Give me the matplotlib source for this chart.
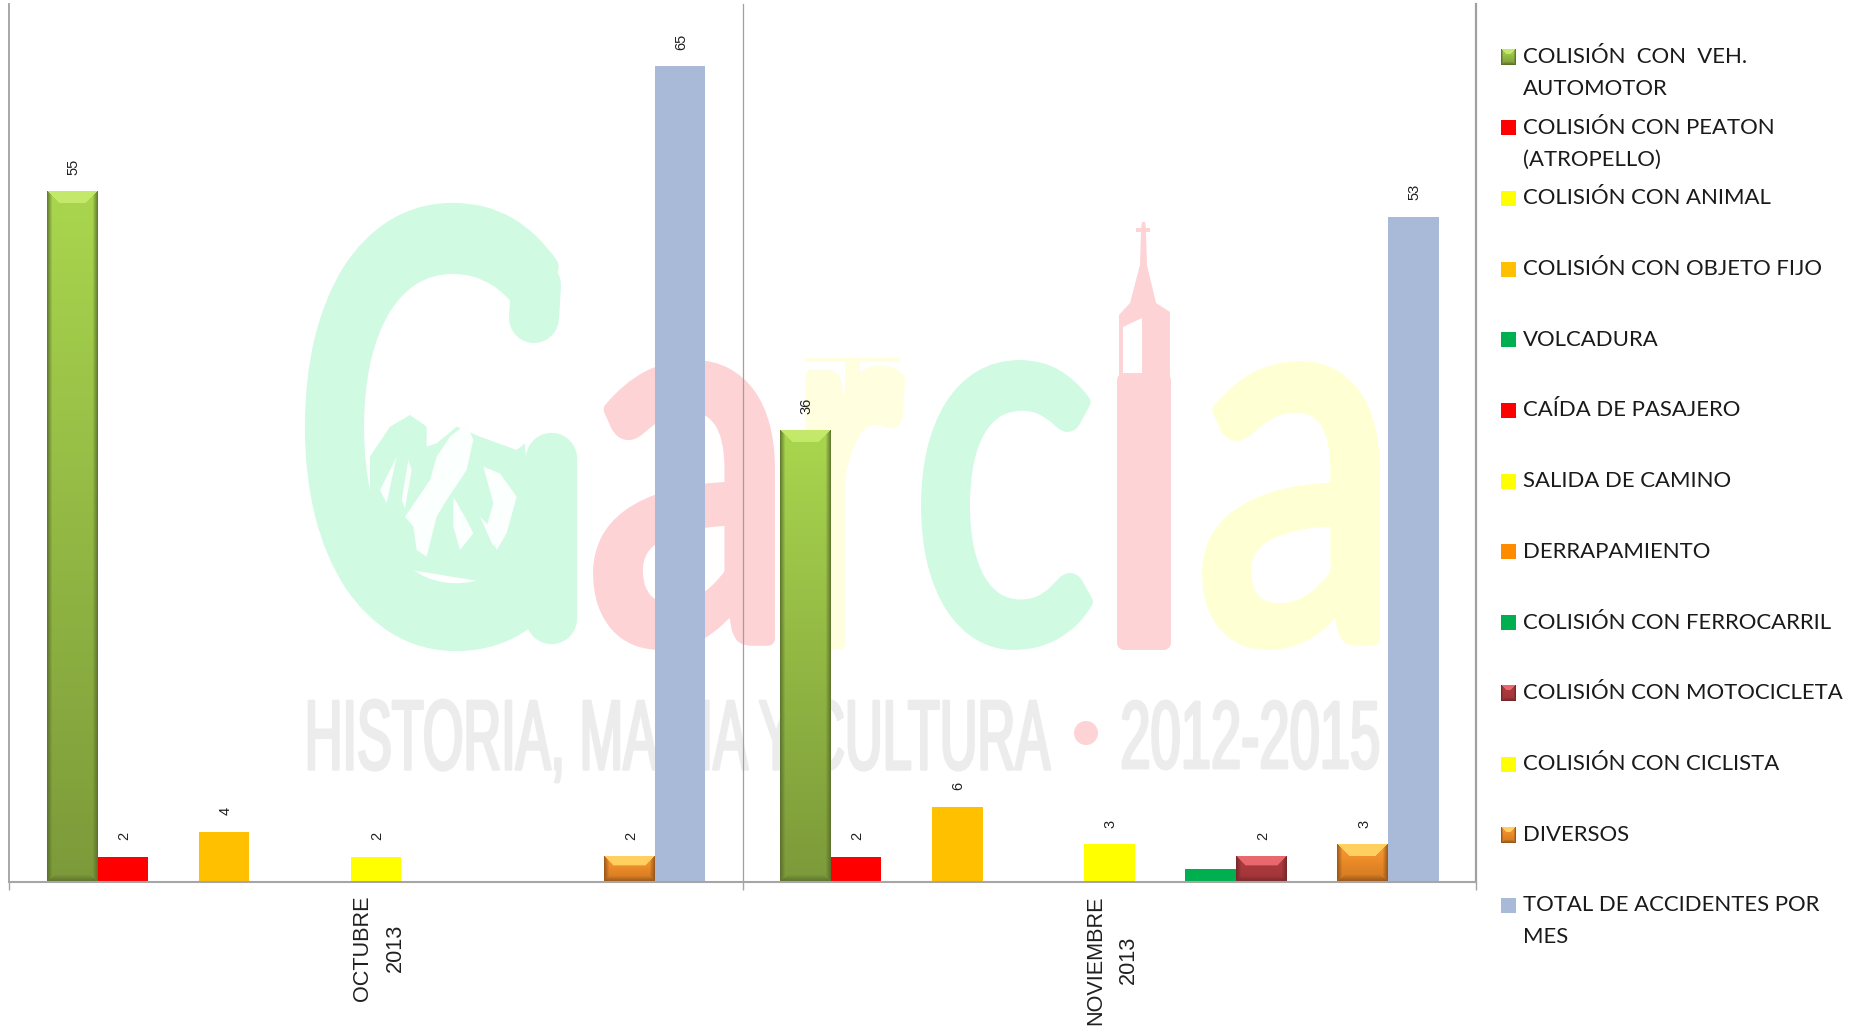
import numpy as np
import matplotlib
matplotlib.use('Agg')
import matplotlib.pyplot as plt
import matplotlib.patheffects as pe
from matplotlib.patches import Polygon, Circle, Rectangle
from matplotlib.transforms import Affine2D

W, H = 1852, 1034

months = ['OCTUBRE\n2013', 'NOVIEMBRE\n2013']
series = ['COLISIÓN  CON  VEH.\nAUTOMOTOR', 'COLISIÓN CON PEATON\n(ATROPELLO)', 'COLISIÓN CON ANIMAL',
          'COLISIÓN CON OBJETO FIJO', 'VOLCADURA', 'CAÍDA DE PASAJERO', 'SALIDA DE CAMINO',
          'DERRAPAMIENTO', 'COLISIÓN CON FERROCARRIL', 'COLISIÓN CON MOTOCICLETA',
          'COLISIÓN CON CICLISTA', 'DIVERSOS', 'TOTAL DE ACCIDENTES POR\nMES']
octubre = [55, 2, 0, 4, 0, 0, 2, 0, 0, 0, 0, 2, 65]
noviembre = [36, 2, 0, 6, 0, 0, 3, 0, 1, 2, 0, 3, 53]
colors = ['#93B144', '#FF0000', '#FFFF00', '#FFC000', '#00B050', '#FF0000', '#FFFF00',
          '#FF8C00', '#00B050', '#A8383B', '#FFFF00', '#E8821E', '#A9B9D8']
no_label = [8]   # ferrocarril has no data label

# top colour, bottom colour, top bevel, side/bottom bevel
bevels = {0: ('#A9D64E', '#7C9A3A', '#C4E86A', '#55692A'),
          9: ('#B03C40', '#A03438', '#E8686E', '#6E2426'),
          11: ('#FF9A30', '#D07820', '#FFD060', '#8A5018')}

GREEN = '#D0FAE2'
PINK = '#FDD3D6'


class FitBox(pe.AbstractPathEffect):
    # squeezes a text into a box given in pixels from the top left
    def __init__(self, x0, y0, x1, y1, stroke=0):
        self.box = (x0, H - y1, x1, H - y0)
        self.stroke = stroke

    def draw_path(self, renderer, gc, tpath, affine, rgbFace=None):
        ext = tpath.transformed(affine).get_extents()
        x0, y0, x1, y1 = self.box
        m = Affine2D().translate(-ext.x0, -ext.y0).scale((x1 - x0) / ext.width, (y1 - y0) / ext.height).translate(x0, y0)
        gc0 = renderer.new_gc()
        gc0.copy_properties(gc)
        if self.stroke:
            gc0.set_linewidth(self.stroke)
            gc0.set_joinstyle('round')
            gc0.set_foreground(rgbFace)
        renderer.draw_path(gc0, tpath, affine + m, rgbFace)
        gc0.restore()


def bevel(ax, x0, y0, x1, y1, pw, ph, style, b=12, s=5):
    # gradient bar drawn as an image over the rectangle, pw/ph = size in pixels
    top, bottom, light, dark = [np.array(matplotlib.colors.to_rgb(c)) for c in style]
    pw, ph = max(int(round(pw)), 2), max(int(round(ph)), 2)
    yy, xx = np.mgrid[0:ph, 0:pw]
    t = (yy / max(ph - 1, 1))[..., None]
    img = top * (1 - t) + bottom * t
    dl, dr, dt, db = xx, pw - 1 - xx, yy, ph - 1 - yy
    ds = np.minimum(dl, dr)
    b = min(b, ph // 3 + 1)
    f = np.clip(1 - ds / s, 0, 1)[..., None] * 0.8
    img = img * (1 - f) + dark * f
    bt = (db < b * 0.6) & (db < ds)
    f = (1 - db / (b * 0.6))[..., None] * 0.8
    img = np.where(bt[..., None], img * (1 - f) + dark * f, img)
    tp = (dt < b) & (dt < ds)
    img = np.where(tp[..., None], light, img)
    ax.imshow(img, extent=(x0, x1, y0, y1), aspect='auto', zorder=3, interpolation='bilinear', origin='upper')


def zoomed(pts):
    # outlines were traced on a crop of the logo, 3x with corner at 280,180
    return np.array(pts) / 3 + (280, 180)


fig = plt.figure(figsize=(W / 100, H / 100), dpi=100, facecolor='white')

# watermark lives in a pixel axes behind the chart
bg = fig.add_axes([0, 0, 1, 1], zorder=0)
bg.axis('off')

letters = [('G', GREEN, 316, 214, 550, 640, 16), ('a', PINK, 600, 367, 768, 643, 10),
           ('r', '#FFFFE0', 812, 372, 898, 643, 10), ('c', GREEN, 928, 367, 1086, 643, 10),
           ('a', '#FFFFD4', 1209, 368, 1373, 643, 10)]
for ch, col, x0, y0, x1, y1, st in letters:
    bg.text(x0, y1, ch, color=col, fontsize=100, family='Lato',
            path_effects=[FitBox(x0, y0, x1, y1, stroke=st)])

# G: the crossbar goes, a rounded stem and a longer top terminal come in
bg.add_patch(Rectangle((430, 400), 150, 62, fc='white', ec='none', zorder=3.5))
bg.plot([551, 551], [458, 618], color=GREEN, lw=37, solid_capstyle='round', zorder=3.6)
bg.plot([536, 534], [285, 318], color=GREEN, lw=36, solid_capstyle='round', zorder=3.6)
mountain = [(270, 830), (330, 740), (390, 705), (440, 740), (440, 800), (470, 790), (530, 740), (600, 770),
            (710, 810), (735, 790), (760, 1230), (270, 1150)]
bg.add_patch(Polygon(zoomed(mountain), fc=GREEN, ec='none', zorder=3.7))
streaks = [[(300, 930), (350, 830), (320, 970)],
           [(385, 840), (395, 870), (375, 985), (365, 960)],
           [(375, 1010), (450, 900), (470, 830), (510, 770), (560, 730), (580, 780), (560, 870), (500, 960),
            (470, 1010), (440, 1130), (410, 1110), (400, 1040)],
           [(520, 950), (560, 1020), (580, 1060), (540, 1110), (520, 1040)],
           [(610, 860), (660, 880), (710, 950), (680, 1060), (650, 1110), (620, 1040), (640, 970)],
           [(600, 1010), (650, 1060), (640, 1100)]]
for pts in streaks:
    bg.add_patch(Polygon(zoomed(pts), fc='#FBFFFD', ec='none', zorder=4))

# church tower on the l
bg.text(1120, 648, 'l', color=PINK, fontsize=100, family='Liberation Sans',
        path_effects=[FitBox(1124, 380, 1164, 643, stroke=10)])
bg.add_patch(Polygon([(1119, 400), (1119, 315), (1130, 303), (1140, 265), (1141, 232), (1136, 232), (1136, 228),
                      (1141, 228), (1142, 222), (1145, 222), (1146, 228), (1150, 228), (1150, 232), (1146, 232),
                      (1147, 265), (1156, 303), (1170, 312), (1170, 400)], fc=PINK, ec='none'))
bg.add_patch(Polygon([(1123, 327), (1142, 318), (1142, 385), (1123, 396)], fc='white', ec='none'))
# battlements of the r
bg.text(815, 392, 'T', color='#FFFFE0', fontsize=30, family='Liberation Sans',
        path_effects=[FitBox(805, 358, 900, 395)])

gray = '#ECECEC'
bg.text(307, 780, 'HISTORIA, MAGIA Y CULTURA', color=gray, fontsize=60, family='Liberation Sans',
        path_effects=[FitBox(309, 700, 1050, 782, stroke=2)])
bg.text(1120, 771, '2012-2015', color=gray, fontsize=60, family='Liberation Sans',
        path_effects=[FitBox(1123, 701, 1378, 769, stroke=2)])
bg.add_patch(Circle((1086, 733), 12, fc=PINK, ec='none'))
bg.set_xlim(0, W)
bg.set_ylim(H, 0)

# chart
ax = fig.add_axes([9.4 / W, 1 - 882 / H, (1476 - 9.4) / W, 878.5 / H], zorder=1)
ax.patch.set_alpha(0)
ax.set_xlim(-0.5, 1.5)
ax.set_ylim(0, 70)
bw = 1 / 14.47
for m, vals in enumerate([octubre, noviembre]):
    for i, v in enumerate(vals):
        if v == 0:
            continue
        x = m + (i - 6) * bw
        ax.bar(x, v, bw, color=colors[i], zorder=2, linewidth=0)
        if i in bevels:
            p0 = ax.transData.transform((x - bw / 2, 0))
            p1 = ax.transData.transform((x + bw / 2, v))
            bevel(ax, x - bw / 2, 0, x + bw / 2, v, p1[0] - p0[0], p1[1] - p0[1], bevels[i])
        if i not in no_label:
            ax.annotate(str(v), (x, v), xytext=(1, 12), textcoords='offset points', rotation=90,
                        ha='center', va='bottom', fontsize=10.5, family='Liberation Sans', color='#202020')
ax.set_xlim(-0.5, 1.5)
ax.set_ylim(0, 70)

for s in ['top', 'left', 'right']:
    ax.spines[s].set_visible(False)
ax.spines['bottom'].set_color('#A6A6A6')
ax.spines['bottom'].set_linewidth(1.5)
ax.spines['bottom'].set_zorder(4)
ax.set_yticks([])
ax.set_xticks([-0.5, 0.5, 1.5])
ax.set_xticklabels([])
ax.tick_params(axis='x', which='major', length=6, color='#A6A6A6', width=1)
ax.grid(True, axis='x', color='#A0A0A0', linewidth=1, zorder=1)
for g, w in zip(ax.get_xgridlines(), [1.3, 0.9, 1.6]):
    g.set_clip_on(False)
    g.set_linewidth(w)
ax.set_axisbelow(True)
ax.set_xticks([0.004, 1.004], minor=True)
ax.set_xticklabels(months, minor=True, rotation=90, fontsize=15.6, family='Liberation Sans',
                   ha='center', va='top', multialignment='center', linespacing=1.7, color='#202020')
ax.tick_params(axis='x', which='minor', length=0, pad=9.5)

# legend
lg = fig.add_axes([0, 0, 1, 1], zorder=2)
lg.patch.set_alpha(0)
lg.axis('off')
for i, name in enumerate(series):
    y = 57 + i * 70.7
    if i in bevels:
        bevel(lg, 1501, y + 8, 1516, y - 8, 15, 16, bevels[i], b=5, s=2)
    else:
        lg.bar(1508.5, 15, 15, bottom=y - 7.5, color=colors[i], linewidth=0)
    for k, line in enumerate(name.split('\n')):
        lg.text(1523, y + k * 32, line, fontsize=15.9, family='Lato', va='center', ha='left', color='#1A1A1A')
lg.set_xlim(0, W)
lg.set_ylim(H, 0)

fig.savefig('out.png', dpi=100)
